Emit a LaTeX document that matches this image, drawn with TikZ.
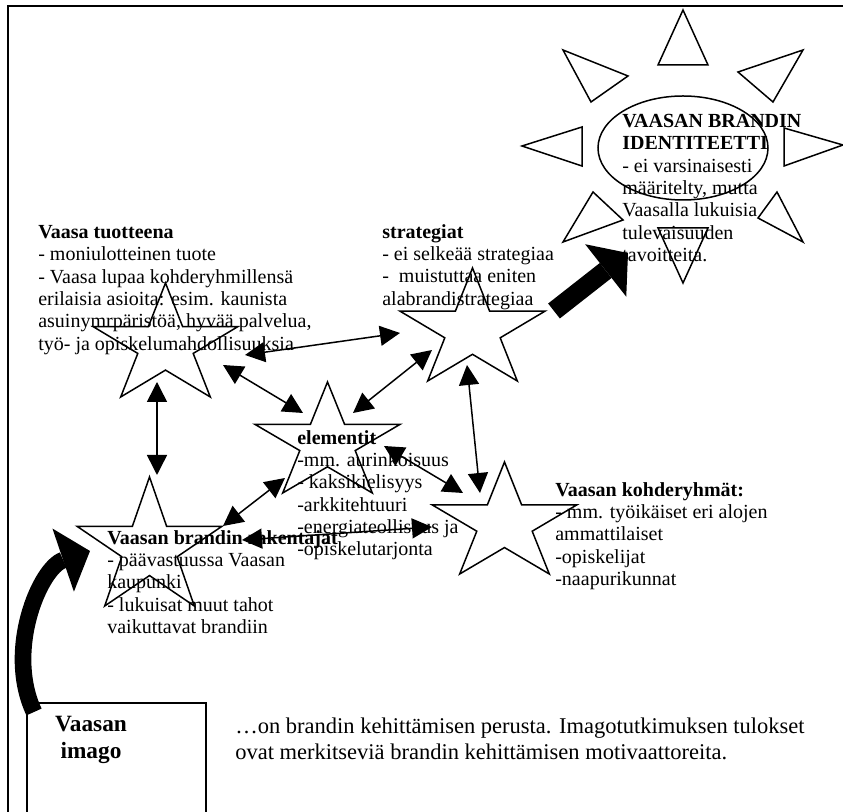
\documentclass[tikz,border=0pt]{standalone}
\usepackage{fontspec}
\setmainfont{Liberation Serif}
\usetikzlibrary{arrows.meta,calc,positioning}

\tikzset{
  starline/.style={line width=0.9pt, line join=miter},
  txt/.style={anchor=north west, align=left, inner sep=0pt, font=\fontsize{12}{13.4}\selectfont},
  bigtxt/.style={inner sep=0pt, font=\fontsize{13.5}{15.5}\selectfont},
  twohead/.style={line width=0.9pt, {Triangle[length=12pt,width=12pt]}-{Triangle[length=12pt,width=12pt]}},
  blockarrow/.style={line width=#1, -{Triangle[length=17pt,width=40pt,line width=0pt]}}
}

% five-point star in a box: name, left, top, width, height
\newcommand{\wordstar}[5]{%
  \begin{scope}[shift={(#2,#3)}, xscale=#4, yscale=#5]
    \draw[starline] (0.5,0) -- (0.618,0.382) -- (1,0.382) -- (0.691,0.618)
      -- (0.809,1) -- (0.5,0.764) -- (0.191,1) -- (0.309,0.618)
      -- (0,0.382) -- (0.382,0.382) -- cycle;
    \coordinate (#1) at (0.5,0.5);
  \end{scope}}

\begin{document}
\begin{tikzpicture}[x=0.6pt, y=-0.6pt]
  \useasboundingbox (0,0) rectangle (843,812);

  % frame
  \draw[line width=1.3pt] (8,812) -- (8,6) -- (843,6);

  % sun: ring and rays
  \draw[starline] (683,148) ellipse [x radius=85, y radius=52];
  \draw[starline] (683,10) -- (708,65) -- (658,65) -- cycle;
  \draw[starline] (683,283) -- (708,228) -- (658,228) -- cycle;
  \draw[starline] (522,146) -- (582,127) -- (582,166) -- cycle;
  \draw[starline] (843,145) -- (784,128) -- (784,166) -- cycle;
  \draw[starline] (563,50) -- (628,76) -- (591,102) -- cycle;
  \draw[starline] (803,50) -- (738,72) -- (773,102) -- cycle;
  \draw[starline] (563,242) -- (593,192) -- (623,220) -- cycle;
  \draw[starline] (803,242) -- (777,192) -- (758,218) -- cycle;

  % stars
  \wordstar{tuotestar}{93}{283}{145}{114}
  \wordstar{stratstar}{400}{268}{145}{113}
  \wordstar{elemstar}{255}{382}{145}{111}
  \wordstar{kohdestar}{432}{462}{145}{112}
  \wordstar{rakentstar}{77}{477}{145}{129}

  % image box
  \draw[line width=0.9pt] (27,812) -- (27,703) -- (206,703) -- (206,812);

  % texts
  \node[txt] (tuote) at (38,225) {\textbf{Vaasa tuotteena}\\
    - moniulotteinen tuote\\
    - Vaasa lupaa kohderyhmillensä\\
    erilaisia asioita: esim. kaunista\\
    asuinymrpäristöä, hyvää palvelua,\\
    työ- ja opiskelumahdollisuuksia};
  \node[txt] (strat) at (382,224) {\textbf{strategiat}\\
    - ei selkeää strategiaa\\
    -\ \ muistuttaa eniten\\
    alabrandistrategiaa};
  \node[txt] (elem) at (297,430) {\textbf{elementit}\\
    -mm. aurinkoisuus\\
    - kaksikielisyys\\
    -arkkitehtuuri\\
    -energiateollisuus ja\\
    -opiskelutarjonta};
  \node[txt] (kohde) at (555,482) {\textbf{Vaasan kohderyhmät:}\\
    - mm. työikäiset eri alojen\\
    ammattilaiset\\
    -opiskelijat\\
    -naapurikunnat};
  \node[txt] (rakent) at (107,530) {\textbf{Vaasan brandin rakentajat}\\
    - päävastuussa Vaasan\\
    kaupunki\\
    - lukuisat muut tahot\\
    vaikuttavat brandiin};
  \node[txt] (ident) at (622,114) {\textbf{VAASAN BRANDIN}\\
    \textbf{IDENTITEETTI}\\
    - ei varsinaisesti\\
    määritelty, mutta\\
    Vaasalla lukuisia\\
    tulevaisuuden\\
    tavoitteita.};
  \node[bigtxt, anchor=north, align=center, font=\fontsize{14}{16}\selectfont\bfseries] (imago) at (91,716) {Vaasan\\imago};
  \node[bigtxt, anchor=north west, align=left] (perusta) at (235,718) {…on brandin kehittämisen perusta. Imagotutkimuksen tulokset\\
    ovat merkitseviä brandin kehittämisen motivaattoreita.};

  % arrow ends
  \coordinate (ts-s) at (157,382);
  \coordinate (rs-n) at (157,475);
  \coordinate (ts-e) at (245,355);
  \coordinate (ss-w) at (400,333);
  \coordinate (ts-se) at (223,365);
  \coordinate (es-nw) at (303,413);
  \coordinate (ss-sw) at (432,350);
  \coordinate (es-ne) at (353,413);
  \coordinate (ss-s) at (467,365);
  \coordinate (ks-n) at (480,493);
  \coordinate (es-e) at (384,446);
  \coordinate (ks-nw) at (463,493);
  \coordinate (es-sw) at (285,478);
  \coordinate (rs-ne) at (223,526);
  \coordinate (rs-e) at (242,540);
  \coordinate (es-se) at (432,527);
  \coordinate (ss-ne) at (554,311);
  \coordinate (sun-sw) at (628,253);
  \coordinate (img-nw) at (34,712);
  \coordinate (rs-w) at (90,551);

  % links
  \draw[twohead] (ts-s) -- (rs-n);
  \draw[twohead] (ts-e) -- (ss-w);
  \draw[twohead] (ts-se) -- (es-nw);
  \draw[twohead] (ss-sw) -- (es-ne);
  \draw[twohead] (ss-s) -- (ks-n);
  \draw[twohead] (es-e) -- (ks-nw);
  \draw[twohead] (es-sw) -- (rs-ne);
  \draw[twohead] (rs-e) -- (es-se);

  % thick arrows
  \draw[blockarrow=11.4pt] (ss-ne) -- (sun-sw);
  \draw[blockarrow=10pt] (img-nw) .. controls (5,650) and (40,568) .. (rs-w);
\end{tikzpicture}
\end{document}
